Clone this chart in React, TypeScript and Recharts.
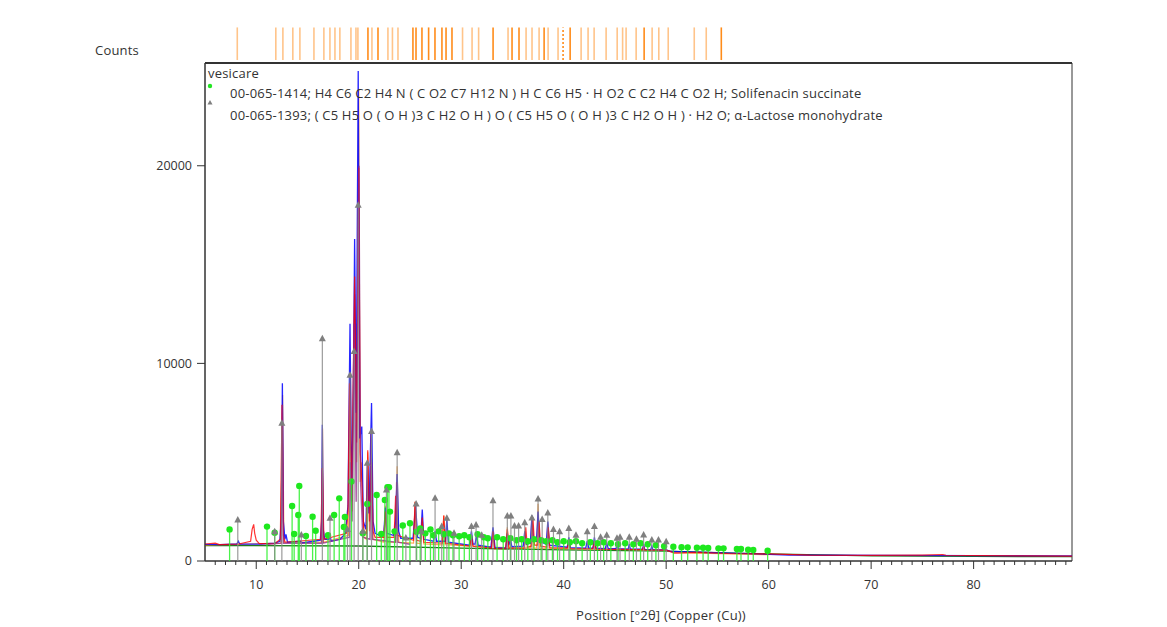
import React from 'react';
import { ComposedChart, Line, Scatter, XAxis, YAxis, ReferenceLine, ReferenceArea } from 'recharts';

type Pt = [number, number];

const blueScan: Pt[] = [
  [5.0, 840], [6.5, 830], [8.1, 860], [8.25, 1000], [8.4, 850], [10.5, 860], [11.8, 900], [12.3, 1000],
  [12.45, 2200], [12.55, 9000], [12.65, 2000], [12.8, 1100], [12.9, 1350], [13.05, 950], [14.3, 1000],
  [14.5, 920], [15.6, 1000], [16.25, 1050], [16.38, 2000], [16.45, 6900], [16.53, 1600], [16.7, 1100],
  [17.1, 1100], [17.2, 1350], [17.3, 1000], [18.2, 1100], [18.7, 1400], [18.95, 2800], [19.15, 12000],
  [19.3, 3800], [19.45, 7000], [19.6, 16300], [19.75, 7500], [19.95, 24800], [20.1, 6200], [20.3, 6800],
  [20.45, 2000], [20.7, 1600], [20.85, 5000], [21.0, 2400], [21.25, 8000], [21.4, 2000], [21.6, 1400],
  [22.0, 1300], [22.45, 1400], [22.6, 2700], [22.75, 1400], [23.4, 1300], [23.6, 2000], [23.75, 4400],
  [23.9, 1500], [24.1, 1150], [25.3, 1150], [25.55, 2800], [25.75, 1200], [26.05, 1150], [26.2, 2600],
  [26.35, 1100], [27.3, 1000], [27.45, 1500], [27.6, 1000], [28.45, 1000], [28.6, 2100], [28.75, 950],
  [30.8, 800], [31.0, 1500], [31.15, 850], [31.35, 850], [31.5, 1300], [31.65, 800], [32.9, 700],
  [33.1, 1700], [33.3, 680], [34.35, 650], [34.5, 1400], [34.65, 800], [34.8, 1100], [34.95, 720],
  [36.05, 750], [36.2, 1500], [36.35, 850], [36.75, 900], [36.9, 2300], [37.05, 1000], [37.35, 1000],
  [37.5, 2500], [37.65, 1000], [38.3, 850], [38.45, 2000], [38.6, 800], [40.35, 700], [40.5, 1200],
  [40.65, 680], [42.15, 650], [42.3, 1000], [42.45, 650], [42.85, 650], [43.0, 1200], [43.15, 650],
  [44.05, 620], [44.2, 900], [44.35, 620], [45.1, 620], [45.2, 800], [45.35, 620], [46.3, 600],
  [46.4, 850], [46.5, 600], [47.7, 600], [47.8, 850], [47.9, 590], [48.5, 580], [48.6, 750], [48.7, 570],
  [49.3, 560], [50.0, 560], [50.5, 480], [52, 460], [54, 430], [56, 400], [58, 370], [60, 340], [62, 300],
  [66, 290], [72, 280], [80, 270], [89.6, 260],
];

const redScan: Pt[] = [
  [5.0, 860], [6.0, 900], [6.4, 830], [8.3, 860], [9.45, 1000], [9.6, 1600], [9.75, 1850], [9.85, 1400],
  [10.0, 1050], [10.3, 880], [11.8, 880], [12.35, 1100], [12.52, 7900], [12.65, 1300], [12.8, 950],
  [16.3, 1100], [16.45, 4700], [16.6, 1100], [18.8, 1400], [18.95, 2500], [19.1, 9000], [19.3, 3000],
  [19.6, 14400], [19.8, 6000], [20.0, 19900], [20.15, 5500], [20.3, 4000], [20.5, 1500], [20.75, 1400],
  [20.88, 5600], [21.05, 2000], [21.25, 5000], [21.4, 1500], [21.6, 1200], [22.45, 1200], [22.6, 2500],
  [22.75, 1200], [23.45, 1200], [23.6, 3300], [23.75, 1300], [25.35, 1050], [25.5, 3000], [25.65, 1050],
  [26.05, 1000], [26.2, 2200], [26.35, 950], [28.15, 900], [28.3, 2300], [28.45, 900], [30.85, 750],
  [31.0, 1300], [31.15, 750], [32.95, 650], [33.1, 1500], [33.25, 630], [34.35, 620], [34.5, 1600],
  [34.65, 650], [36.15, 650], [36.3, 1700], [36.45, 700], [36.85, 750], [37.0, 2200], [37.15, 800],
  [37.45, 800], [37.6, 2000], [37.75, 750], [38.35, 700], [38.5, 1700], [38.65, 680], [40.35, 650],
  [40.5, 1000], [40.65, 620], [42.85, 620], [43.0, 1000], [43.15, 600], [47.7, 580], [47.8, 750],
  [47.9, 560], [50, 550], [50.8, 400], [53, 440], [56, 380], [60, 360], [64, 300], [70, 280], [75, 300],
  [77, 330], [77.3, 290], [85, 260], [89.6, 250],
];

const orangeScan: Pt[] = [
  [5.0, 800], [12.4, 900], [12.57, 8400], [12.7, 950], [16.35, 950], [16.47, 6700], [16.57, 950],
  [19.0, 1300], [19.2, 9500], [19.35, 2500], [19.62, 13500], [19.8, 5000], [20.0, 23900], [20.14, 4000],
  [20.3, 5000], [20.5, 1200], [20.75, 1100], [20.88, 5500], [21.05, 1500], [21.25, 5200], [21.4, 1100],
  [22.45, 950], [22.6, 2800], [22.75, 950], [23.6, 950], [23.75, 4800], [23.9, 950], [25.35, 900],
  [25.5, 3000], [25.65, 900], [26.05, 880], [26.2, 2000], [26.35, 870], [28.15, 820], [28.3, 2300],
  [28.45, 820], [30.85, 750], [31.0, 1200], [31.15, 750], [32.95, 700], [33.1, 1400], [33.25, 700],
  [34.35, 680], [34.5, 1700], [34.65, 680], [36.75, 650], [36.9, 2200], [37.05, 650], [37.35, 650],
  [37.5, 2900], [37.65, 650], [38.3, 640], [38.45, 1900], [38.6, 640], [40.35, 620], [40.5, 1100],
  [40.65, 620], [42.85, 600], [43.0, 1000], [43.15, 600], [47, 580], [50, 550], [51, 420], [60, 320],
];

const purpleScan: Pt[] = [
  [11.0, 850], [12.45, 900], [12.55, 7900], [12.65, 900], [16.38, 900], [16.45, 4600], [16.52, 900],
  [19.1, 1200], [19.2, 5000], [19.35, 2000], [19.55, 12000], [19.75, 3000], [20.02, 20000], [20.18, 4000],
  [20.4, 1200], [21.1, 1100], [21.2, 6500], [21.35, 1100], [23.6, 950], [23.7, 4000], [23.8, 950],
  [25.0, 850],
];

const backgroundLine: Pt[] = [
  [5, 780], [20, 760], [30, 650], [40, 560], [50, 500], [55, 420], [60, 360], [70, 260], [80, 230],
  [89.6, 220],
];

// reference pattern 00-065-1414 (Solifenacin succinate)
const solifenacinRef: Pt[] = [
  [7.4, 1600], [11.05, 1740], [11.8, 1430], [13.5, 2780], [13.7, 1370], [14.1, 2330], [14.2, 3800],
  [14.85, 1270], [15.5, 2240], [15.8, 1530], [17.0, 1300], [17.6, 2330], [18.1, 3170], [18.55, 1720],
  [18.65, 2230], [19.3, 4020], [20.4, 1400], [20.83, 2890], [21.75, 3340], [22.2, 1370], [22.55, 3090],
  [22.8, 3730], [22.95, 3730], [23.05, 2500], [23.5, 1500], [24.3, 1800], [25.0, 1910], [25.65, 1480],
  [26.0, 1650], [26.5, 1400], [27.0, 1600], [27.3, 1300], [27.8, 1500], [28.3, 1350], [28.8, 1400],
  [29.2, 1300], [29.8, 1250], [30.3, 1300], [30.8, 1200], [31.6, 1350], [32.2, 1200], [32.6, 1150],
  [33.5, 1200], [34.1, 1100], [34.8, 1150], [35.4, 1050], [35.9, 1100], [36.5, 1000], [37.1, 1100],
  [37.8, 1050], [38.3, 1000], [38.9, 1050], [39.4, 950], [40.0, 1000], [40.6, 950], [41.2, 1000],
  [41.8, 900], [42.6, 950], [43.3, 900], [43.9, 950], [44.6, 900], [45.3, 850], [46.0, 900],
  [46.8, 850], [47.5, 900], [48.2, 850], [49.0, 800], [49.8, 750], [50.7, 720], [51.5, 700],
  [52.1, 690], [53.0, 670], [53.6, 670], [54.1, 660], [55.1, 640], [55.6, 640], [56.9, 610],
  [57.3, 610], [58.0, 570], [58.5, 560], [59.9, 520],
];

// reference pattern 00-065-1393 (α-Lactose monohydrate)
const lactoseRef: Pt[] = [
  [8.2, 2080], [11.8, 1480], [12.5, 6970], [14.4, 1320], [16.45, 11250], [17.2, 2160], [18.9, 1600],
  [19.15, 9400], [19.55, 10600], [19.95, 18000], [20.4, 1500], [20.83, 4950], [21.25, 6550],
  [22.7, 3590], [23.75, 5480], [24.6, 1160], [25.6, 2890], [26.1, 1500], [27.45, 3170], [28.1, 1740],
  [28.6, 2160], [29.3, 1400], [31.0, 1740], [31.45, 1820], [32.0, 1300], [33.1, 3050], [34.5, 2280],
  [34.85, 2280], [35.2, 1770], [35.6, 1770], [36.2, 1940], [36.9, 2180], [37.5, 3140], [37.9, 2100],
  [38.45, 2430], [39.0, 1600], [39.6, 1480], [40.5, 1650], [41.2, 1300], [42.3, 1480], [43.0, 1740],
  [43.6, 1200], [44.2, 1300], [45.2, 1150], [45.5, 1200], [46.4, 1200], [47.1, 1100], [47.8, 1320],
  [48.6, 1060], [49.25, 1060], [50.0, 980],
];

// third pattern stick positions shown above the plot
const topSticksStrong = [20.9, 21.88, 25.29, 25.59, 26.17, 26.82, 27.44, 28.12, 28.52, 29.1, 33.11, 34.96, 35.64, 38.09, 40.63, 47.85, 55.38];
const topSticksLight = [
  8.15, 11.91, 12.6, 13.57, 14.26, 15.63, 16.6, 17.19, 17.68, 18.16, 19.24, 19.73, 19.92, 21.29, 22.85,
  23.29, 23.83, 30.13, 31.06, 31.7, 34.57, 36.33, 36.91, 37.6, 38.48, 39.45, 41.7, 42.38, 42.97, 44.14,
  45.22, 45.75, 46.09, 47.07, 48.63, 49.28, 50.2, 52.74, 53.91,
];
const topStickDotted = 39.94;

const yTicks = [0, 10000, 20000];
const xMajor = [10, 20, 30, 40, 50, 60, 70, 80];
const xTicks = Array.from({ length: 84 }, (_, i) => i + 6);

const W = 1167;
const H = 627;
const X_AXIS_H = 30;
const MARGIN = { top: 63, right: 95, bottom: 36, left: 0 };
const Y_AXIS_W = 205;
const PLOT_BOTTOM = H - MARGIN.bottom - X_AXIS_H;
const X_DOMAIN: [number, number] = [5, 89.6];
const Y_MAX = 25200;
const FONT = '"Open Sans", "Noto Sans", sans-serif';

const toPts = (arr: Pt[]) => arr.map(([x, y]) => ({ x, y }));

const XTick = (props: any) => {
  const { x, y, payload } = props;
  const major = xMajor.includes(payload.value);
  return (
    <g>
      <line x1={x} x2={x} y1={y} y2={y + (major ? 8 : 4)} stroke="#333" strokeWidth={1} />
      {major && (
        <text x={x} y={y + 28} textAnchor="middle" fontSize={12.5} fill="#333" fontFamily={FONT}>
          {payload.value}
        </text>
      )}
    </g>
  );
};

const GreenStick = (props: any) => {
  const { cx, cy } = props;
  return (
    <g>
      <line x1={cx} x2={cx} y1={cy} y2={PLOT_BOTTOM} stroke="#2bf02b" strokeOpacity={0.85} strokeWidth={1.3} />
      <circle cx={cx} cy={cy} r={3.2} fill="#1ee81e" />
    </g>
  );
};

const GrayStick = (props: any) => {
  const { cx, cy } = props;
  return (
    <g>
      <line x1={cx} x2={cx} y1={cy} y2={PLOT_BOTTOM} stroke="#8a8a8a" strokeOpacity={0.85} strokeWidth={1.2} />
      <path d={`M${cx},${cy - 4} L${cx + 3.5},${cy + 2.5} L${cx - 3.5},${cy + 2.5} Z`} fill="#7f7f7f" />
    </g>
  );
};

const textStyle: React.CSSProperties = {
  position: 'absolute',
  fontFamily: FONT,
  fontSize: 13,
  letterSpacing: '0.2px',
  color: '#333',
  whiteSpace: 'nowrap',
  lineHeight: '14px',
};

export default function App() {
  return (
    <div style={{ position: 'absolute', left: 0, top: 0, width: W, height: H, background: '#fff' }}>
      <ComposedChart width={W} height={H} margin={MARGIN}>
        <XAxis
          dataKey="x"
          type="number"
          domain={X_DOMAIN}
          allowDataOverflow
          height={X_AXIS_H}
          ticks={xTicks}
          interval={0}
          tick={<XTick />}
          tickLine={false}
          tickSize={0}
          tickMargin={0}
          axisLine={{ stroke: '#333' }}
        />
        <YAxis
          dataKey="y"
          type="number"
          domain={[0, Y_MAX]}
          allowDataOverflow
          ticks={yTicks}
          width={Y_AXIS_W}
          tickSize={8}
          tickMargin={5}
          tick={{ fontSize: 12.5, fill: '#333', fontFamily: FONT }}
          tickLine={{ stroke: '#333' }}
          axisLine={{ stroke: '#333' }}
        />

        <Scatter data={toPts(solifenacinRef)} shape={<GreenStick />} isAnimationActive={false} />
        <Scatter data={toPts(lactoseRef)} shape={<GrayStick />} isAnimationActive={false} />

        <Line data={toPts(backgroundLine)} dataKey="y" stroke="#1f7a1f" strokeWidth={1.3} dot={false} isAnimationActive={false} />
        <Line data={toPts(orangeScan)} dataKey="y" stroke="#ff8c1a" strokeWidth={1.2} strokeOpacity={0.75} dot={false} isAnimationActive={false} />
        <Line data={toPts(blueScan)} dataKey="y" stroke="#0000ff" strokeWidth={1.3} strokeOpacity={0.85} dot={false} isAnimationActive={false} />
        <Line data={toPts(redScan)} dataKey="y" stroke="#ff0000" strokeWidth={1.2} strokeOpacity={0.8} dot={false} isAnimationActive={false} />
        <Line data={toPts(purpleScan)} dataKey="y" stroke="#8e1f86" strokeWidth={1.4} strokeOpacity={0.75} dot={false} isAnimationActive={false} />

        {topSticksLight.map((p) => (
          <ReferenceLine key={`l${p}`} segment={[{ x: p, y: 25350 }, { x: p, y: 27000 }]} stroke="#ffc48a" strokeWidth={1.6} ifOverflow="visible" />
        ))}
        {topSticksStrong.map((p) => (
          <ReferenceLine key={`s${p}`} segment={[{ x: p, y: 25350 }, { x: p, y: 27000 }]} stroke="#ff8c1a" strokeWidth={1.6} ifOverflow="visible" />
        ))}
        <ReferenceLine segment={[{ x: topStickDotted, y: 25350 }, { x: topStickDotted, y: 27000 }]} stroke="#ff8c1a" strokeWidth={1.6} strokeDasharray="2 2" ifOverflow="visible" />

        <ReferenceArea x1={X_DOMAIN[0]} x2={X_DOMAIN[1]} y1={0} y2={Y_MAX} fill="none" stroke="#333" strokeWidth={1} ifOverflow="visible" />
        <ReferenceLine y={Y_MAX} stroke="#333" strokeWidth={2} ifOverflow="visible" />
      </ComposedChart>

      <div style={{ ...textStyle, left: 95, top: 43 }}>Counts</div>
      <div style={{ ...textStyle, left: 208, top: 66 }}>vesicare</div>
      <svg style={{ position: 'absolute', left: 205, top: 80 }} width={12} height={28}>
        <circle cx={5} cy={6} r={2.2} fill="#22e622" />
        <path d="M5,20 L7.5,24.5 L2.5,24.5 Z" fill="#7f7f7f" />
      </svg>
      <div style={{ ...textStyle, left: 230, top: 86 }}>
        00-065-1414; H4 C6 C2 H4 N ( C O2 C7 H12 N ) H C C6 H5 · H O2 C C2 H4 C O2 H; Solifenacin succinate
      </div>
      <div style={{ ...textStyle, left: 230, top: 108 }}>
        00-065-1393; ( C5 H5 O ( O H )3 C H2 O H ) O ( C5 H5 O ( O H )3 C H2 O H ) · H2 O; α-Lactose monohydrate
      </div>
      <div style={{ ...textStyle, left: 0, width: 1322, textAlign: 'center', top: 608 }}>
        Position [°2θ] (Copper (Cu))
      </div>
    </div>
  );
}
